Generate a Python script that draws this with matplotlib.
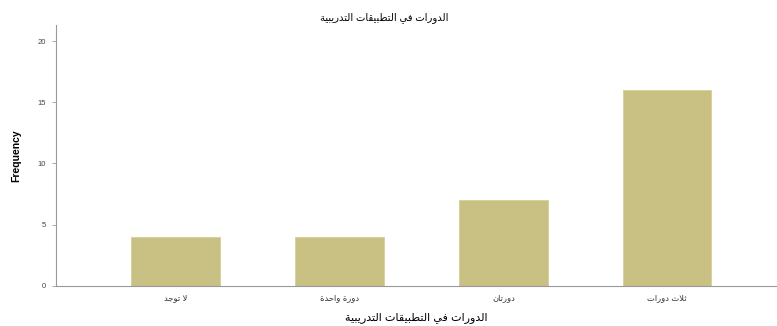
import matplotlib
matplotlib.use("Agg")
import matplotlib.pyplot as plt

title = "الدورات في التطبيقات التدريبية"
xlabel = "الدورات في التطبيقات التدريبية"
ylabel = "Frequency"
categories = ["لا توجد", "دورة واحدة", "دورتان", "ثلاث دورات"]
values = [4, 4, 7, 16]
yticks = [0, 5, 10, 15, 20]

# minimal Arabic shaping (isolated, final, initial, medial)
FORMS = {
    'ا': (0xFE8D, 0xFE8E, None, None),
    'ب': (0xFE8F, 0xFE90, 0xFE91, 0xFE92),
    'ة': (0xFE93, 0xFE94, None, None),
    'ت': (0xFE95, 0xFE96, 0xFE97, 0xFE98),
    'ث': (0xFE99, 0xFE9A, 0xFE9B, 0xFE9C),
    'ج': (0xFE9D, 0xFE9E, 0xFE9F, 0xFEA0),
    'ح': (0xFEA1, 0xFEA2, 0xFEA3, 0xFEA4),
    'د': (0xFEA9, 0xFEAA, None, None),
    'ر': (0xFEAD, 0xFEAE, None, None),
    'ط': (0xFEC1, 0xFEC2, 0xFEC3, 0xFEC4),
    'ف': (0xFED1, 0xFED2, 0xFED3, 0xFED4),
    'ق': (0xFED5, 0xFED6, 0xFED7, 0xFED8),
    'ل': (0xFEDD, 0xFEDE, 0xFEDF, 0xFEE0),
    'ن': (0xFEE5, 0xFEE6, 0xFEE7, 0xFEE8),
    'و': (0xFEED, 0xFEEE, None, None),
    'ي': (0xFEF1, 0xFEF2, 0xFEF3, 0xFEF4),
}


def dual(c):
    return c in FORMS and FORMS[c][2] is not None


def shape(text):
    # merge lam-alef
    chars = []
    i = 0
    while i < len(text):
        if text[i] == 'ل' and i + 1 < len(text) and text[i + 1] == 'ا':
            chars.append('LA')
            i += 2
        else:
            chars.append(text[i])
            i += 1
    out = []
    for i, c in enumerate(chars):
        prev = chars[i - 1] if i > 0 else None
        nxt = chars[i + 1] if i + 1 < len(chars) else None
        cp = prev is not None and prev != 'LA' and dual(prev)
        if c == 'LA':
            out.append(chr(0xFEFC if cp else 0xFEFB))
            continue
        if c not in FORMS:
            out.append(c)
            continue
        cn = dual(c) and nxt is not None and (nxt in FORMS or nxt == 'LA')
        iso, fin, ini, med = FORMS[c]
        if cp and cn:
            out.append(chr(med))
        elif cp:
            out.append(chr(fin))
        elif cn:
            out.append(chr(ini))
        else:
            out.append(chr(iso))
    return ''.join(out)[::-1]


plt.rcParams['font.family'] = ['Liberation Sans', 'DejaVu Sans']

fig = plt.figure(figsize=(7.77, 3.26), dpi=100)
ax = fig.add_axes([0.072, 0.123, 0.928, 0.80])

x = list(range(len(categories)))
ax.bar(x, values, width=0.54, color='#C9C184', edgecolor='#D6CF98', linewidth=0.6)

ax.set_xlim(-0.73, 3.67)
ax.set_ylim(0, 21.3)
ax.set_yticks(yticks)
ax.set_yticklabels([str(v) for v in yticks], fontsize=5.5, color='#444444')
ax.set_xticks(x)
ax.set_xticklabels([shape(c) for c in categories], fontsize=6, color='#333333')
ax.tick_params(axis='x', length=0, pad=6)
ax.tick_params(axis='y', length=3, width=0.6, color='#999999', pad=4)

for s in ['top', 'right']:
    ax.spines[s].set_visible(False)
for s in ['left', 'bottom']:
    ax.spines[s].set_color('#999999')
    ax.spines[s].set_linewidth(0.8)

ax.set_ylabel(ylabel, fontsize=7.5, labelpad=12, fontweight='bold')
ax.set_xlabel(shape(xlabel), fontsize=8, labelpad=7)
fig.text(0.495, 0.945, shape(title), ha='center', va='center', fontsize=7.2)

fig.savefig('out.png', dpi=100)
